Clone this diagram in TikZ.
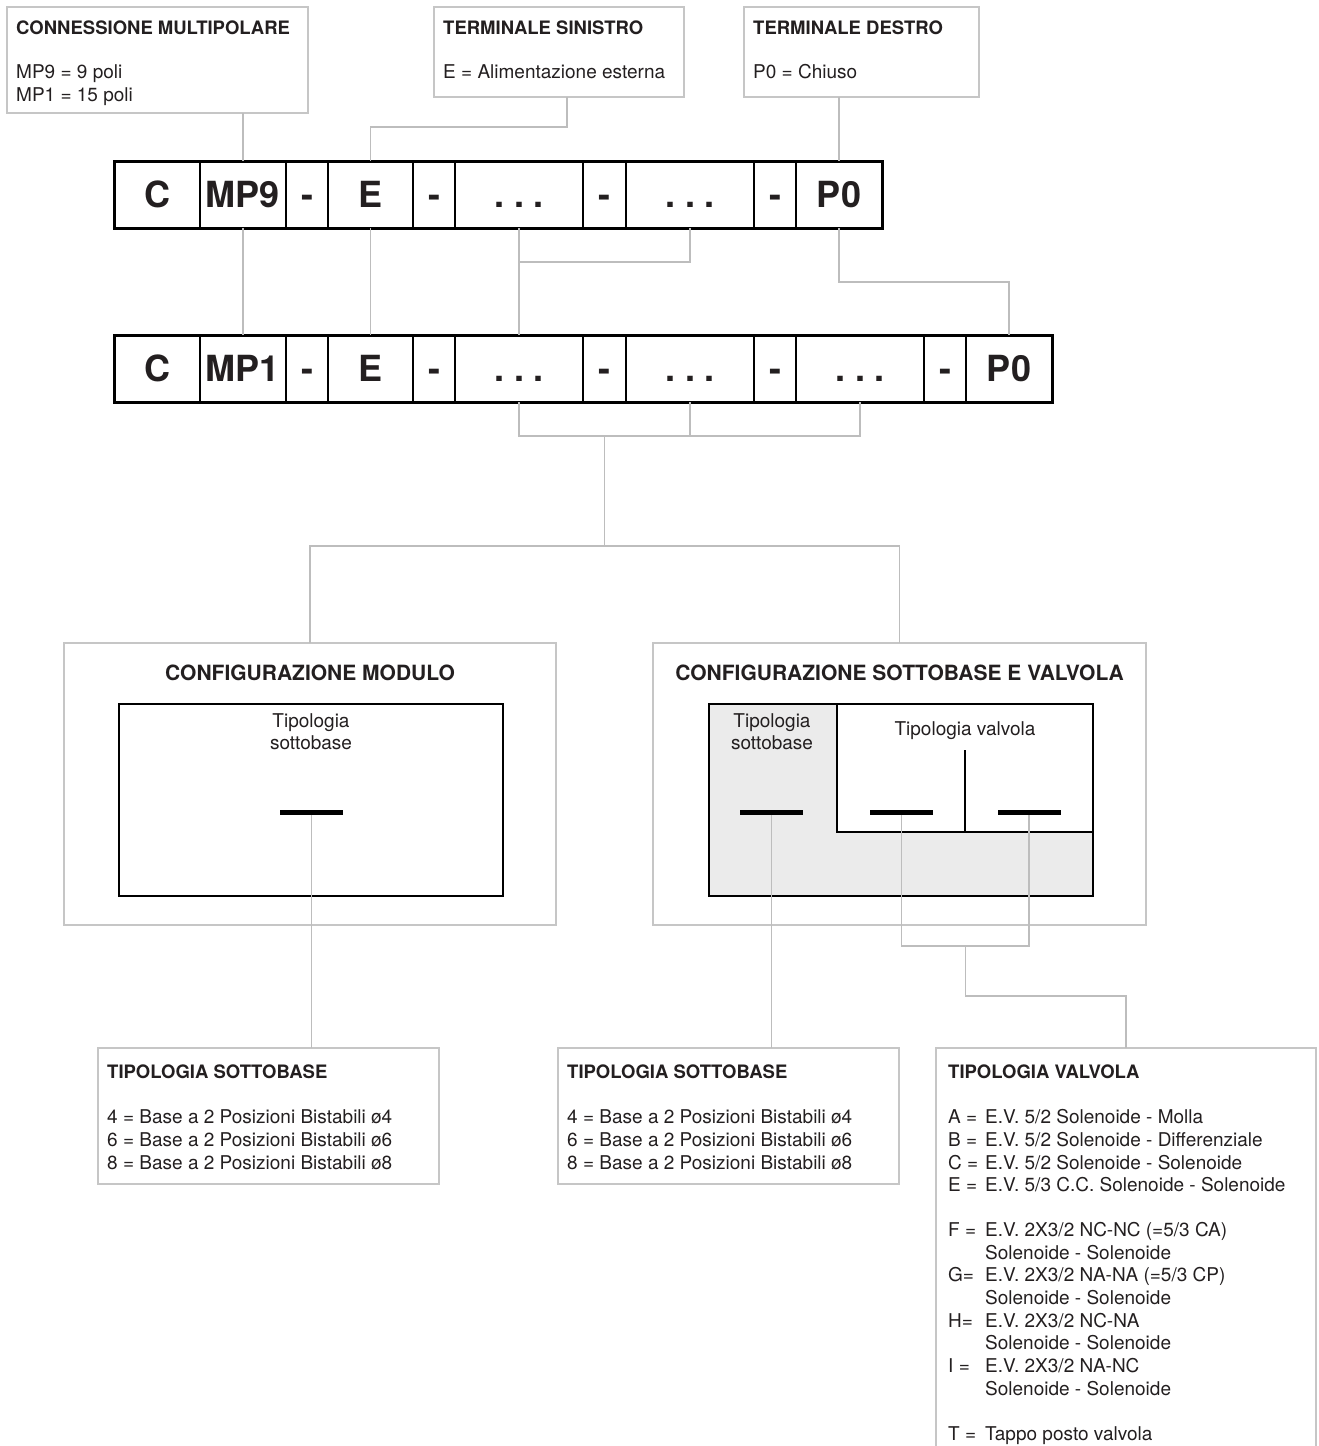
\documentclass[tikz,border=0pt]{standalone}
\usepackage{fontspec}
\setmainfont{TeX Gyre Heros}
\usetikzlibrary{calc}
\definecolor{linegray}{HTML}{BDBDBD}
\definecolor{boxgray}{HTML}{C6C6C6}
\definecolor{textc}{HTML}{231F20}
\definecolor{fillg}{HTML}{EBEBEB}
\begin{document}
\begin{tikzpicture}[x=1pt,y=-1pt,
  every node/.append style={text=textc},
  conn/.style={draw=linegray, line width=1.2pt},
  lbox/.style={draw=boxgray, line width=1.2pt, rectangle, inner sep=0pt, outer sep=0pt, anchor=north west},
  cell/.style={draw=black, line width=2.2pt, rectangle, inner sep=0pt, outer sep=0pt,
    minimum height=67pt, text height=26pt, text depth=0pt,
    font=\fontsize{36}{36}\selectfont\bfseries},
  btext/.style={anchor=north west, inner sep=0pt, align=left, font=\fontsize{19}{22.7}\selectfont},
  ctitle/.style={inner sep=0pt, font=\fontsize{21}{24}\selectfont\bfseries},
  clab/.style={inner sep=0pt, align=center, font=\fontsize{19}{22}\selectfont},
  inbox/.style={draw=black, line width=2.6pt, rectangle, inner sep=0pt, outer sep=0pt, anchor=north west},
  barb/.style={fill=black, inner sep=0pt, minimum width=63pt, minimum height=5pt}
]
\useasboundingbox (0,0) rectangle (1319,1446);
\clip (0,0) rectangle (1319,1446);
\newcommand{\ttl}[1]{{\fontsize{18.5}{22.7}\selectfont\bfseries #1}}

% ---------- top boxes ----------
\node[lbox, minimum width=301pt, minimum height=106pt] (b1) at (7,7) {};
\node[btext] (b1t) at ([xshift=9pt,yshift=-14pt]b1.north west)
  {\ttl{CONNESSIONE MULTIPOLARE}\\[21pt]MP9 = 9 poli\\MP1 = 15 poli};
\node[lbox, minimum width=250pt, minimum height=90pt] (b2) at (434,7) {};
\node[btext] (b2t) at ([xshift=9pt,yshift=-14pt]b2.north west)
  {\ttl{TERMINALE SINISTRO}\\[21pt]E = Alimentazione esterna};
\node[lbox, minimum width=235pt, minimum height=90pt] (b3) at (744,7) {};
\node[btext] (b3t) at ([xshift=9pt,yshift=-14pt]b3.north west)
  {\ttl{TERMINALE DESTRO}\\[21pt]P0 = Chiuso};

% ---------- code rows ----------
\foreach \nm/\l/\r/\t in {c/114/200/C, mp/200/286/MP9, sa/286/328/-, e/328/413/E, sb/413/455/-,
   d1/455/583/{.\hspace{9pt}.\hspace{9pt}.}, sc/583/626/-, d2/626/754/{.\hspace{9pt}.\hspace{9pt}.}, sd/754/796/-, p/796/882/P0}
  \node[cell, minimum width={(\r-\l)*1pt}] (r1\nm) at ({(\l+\r)/2},194.5) {\t};
\draw[line width=3pt] (r1c.north west) rectangle (r1p.south east);

\foreach \nm/\l/\r/\t in {c/114/200/C, mp/200/286/MP1, sa/286/328/-, e/328/413/E, sb/413/455/-,
   d1/455/583/{.\hspace{9pt}.\hspace{9pt}.}, sc/583/626/-, d2/626/754/{.\hspace{9pt}.\hspace{9pt}.}, sd/754/796/-,
   d3/796/924/{.\hspace{9pt}.\hspace{9pt}.}, se/924/966/-, p/966/1052/P0}
  \node[cell, minimum width={(\r-\l)*1pt}] (r2\nm) at ({(\l+\r)/2},368.5) {\t};
\draw[line width=3pt] (r2c.north west) rectangle (r2p.south east);

% ---------- connectors top ----------
\draw[conn] (r1mp.north |- b1.south) -- (r1mp.north);
\draw[conn] (r1mp.south) -- (r2mp.north);
\draw[conn] ([xshift=8pt]b2.south) -- ++(0,30) -| (r1e.north);
\draw[conn] (r1e.south) -- (r2e.north);
\draw[conn] (r1p.north |- b3.south) -- (r1p.north);
\draw[conn] (r1p.south) -- ++(0,54) -| (r2p.north);
\draw[conn] (r1d1.south) -- (r2d1.north);
\draw[conn] (r1d2.south) -- ++(0,34) coordinate (j1) -- (r1d1.south |- j1);
\draw[conn] (r2d1.south) -- ++(0,34) coordinate (j2) -- (r2d3.south |- j2) -- (r2d3.south);
\draw[conn] (r2d2.south) -- (r2d2.south |- j2);
\coordinate (j3) at ($(r2d1.south |- j2)!0.5!(r2d2.south |- j2)$);
\draw[conn] (j3) -- ++(0,110) coordinate (j4);

% ---------- configuration boxes ----------
\node[lbox, minimum width=492pt, minimum height=282pt] (cfg1) at (64,643) {};
\node[lbox, minimum width=493pt, minimum height=282pt] (cfg2) at (653,643) {};
\draw[conn] (cfg1.north) |- (j4) -| (cfg2.north);

\node[ctitle] (cfg1t) at (310,673) {CONFIGURAZIONE MODULO};
\node[inbox, minimum width=384pt, minimum height=192pt] (cfg1in) at (119,704) {};
\node[clab] (cfg1lab) at (311,732) {Tipologia\\sottobase};

\node[ctitle] (cfg2t) at (899.5,673) {CONFIGURAZIONE SOTTOBASE E VALVOLA};
\node[inbox, fill=fillg, minimum width=384pt, minimum height=192pt] (cfg2in) at (709,704) {};
\fill[white] (837,704) rectangle (1093,832);
\draw[line width=1.3pt] (837,704) -- (837,832) -- (1093,832);
\draw[line width=1.3pt] (965,750) -- (965,832);
\draw[line width=2.6pt] (cfg2in.north west) rectangle (cfg2in.south east);
\node[clab] (cfg2lab1) at (772,732) {Tipologia\\sottobase};
\node[clab] (cfg2lab2) at (965,731) {Tipologia valvola};

% ---------- bottom boxes ----------
\node[lbox, minimum width=341pt, minimum height=136pt] (bb1) at (98,1048) {};
\node[btext] (bb1t) at ([xshift=9pt,yshift=-17pt]bb1.north west)
  {\ttl{TIPOLOGIA SOTTOBASE}\\[22pt]4 = Base a 2 Posizioni Bistabili ø4\\6 = Base a 2 Posizioni Bistabili ø6\\8 = Base a 2 Posizioni Bistabili ø8};
\node[lbox, minimum width=341pt, minimum height=136pt] (bb2) at (558,1048) {};
\node[btext] (bb2t) at ([xshift=9pt,yshift=-17pt]bb2.north west)
  {\ttl{TIPOLOGIA SOTTOBASE}\\[22pt]4 = Base a 2 Posizioni Bistabili ø4\\6 = Base a 2 Posizioni Bistabili ø6\\8 = Base a 2 Posizioni Bistabili ø8};
\node[lbox, minimum width=380pt, minimum height=440pt] (bb3) at (936,1048) {};
\node[btext] (bb3t) at ([xshift=12pt,yshift=-17pt]bb3.north west)
  {\ttl{TIPOLOGIA VALVOLA}\\[22pt]
   \makebox[37pt][l]{A =}E.V. 5/2 Solenoide - Molla\\
   \makebox[37pt][l]{B =}E.V. 5/2 Solenoide - Differenziale\\
   \makebox[37pt][l]{C =}E.V. 5/2 Solenoide - Solenoide\\
   \makebox[37pt][l]{E =}E.V. 5/3 C.C. Solenoide - Solenoide\\[22pt]
   \makebox[37pt][l]{F =}E.V. 2X3/2 NC-NC (=5/3 CA)\\
   \makebox[37pt][l]{}Solenoide - Solenoide\\
   \makebox[37pt][l]{G=}E.V. 2X3/2 NA-NA (=5/3 CP)\\
   \makebox[37pt][l]{}Solenoide - Solenoide\\
   \makebox[37pt][l]{H=}E.V. 2X3/2 NC-NA\\
   \makebox[37pt][l]{}Solenoide - Solenoide\\
   \makebox[37pt][l]{I =}E.V. 2X3/2 NA-NC\\
   \makebox[37pt][l]{}Solenoide - Solenoide\\[22pt]
   \makebox[37pt][l]{T =}Tappo posto valvola};

% ---------- bars and their connectors ----------
\node[barb] (bar1) at (311.5,812) {};
\node[barb] (bar2) at (771.5,812) {};
\node[barb] (bar3) at (901.5,812) {};
\node[barb] (bar4) at (1029,812) {};
\draw[conn] (bar1.center) -- (bar1.center |- bb1.north);
\draw[conn] (bar2.center) -- (bar2.center |- bb2.north);
\draw[conn] (bar3.center) -- ++(0,134) coordinate (j5) -- (bar4.center |- j5) -- (bar4.center);
\coordinate (j6) at ($(bar3.center |- j5)!0.5!(bar4.center |- j5)$);
\draw[conn] (j6) -- ++(0,50) -| (bb3.north);
\node[barb] (bar1b) at (bar1) {};
\node[barb] (bar2b) at (bar2) {};
\node[barb] (bar3b) at (bar3) {};
\node[barb] (bar4b) at (bar4) {};
\end{tikzpicture}
\end{document}
